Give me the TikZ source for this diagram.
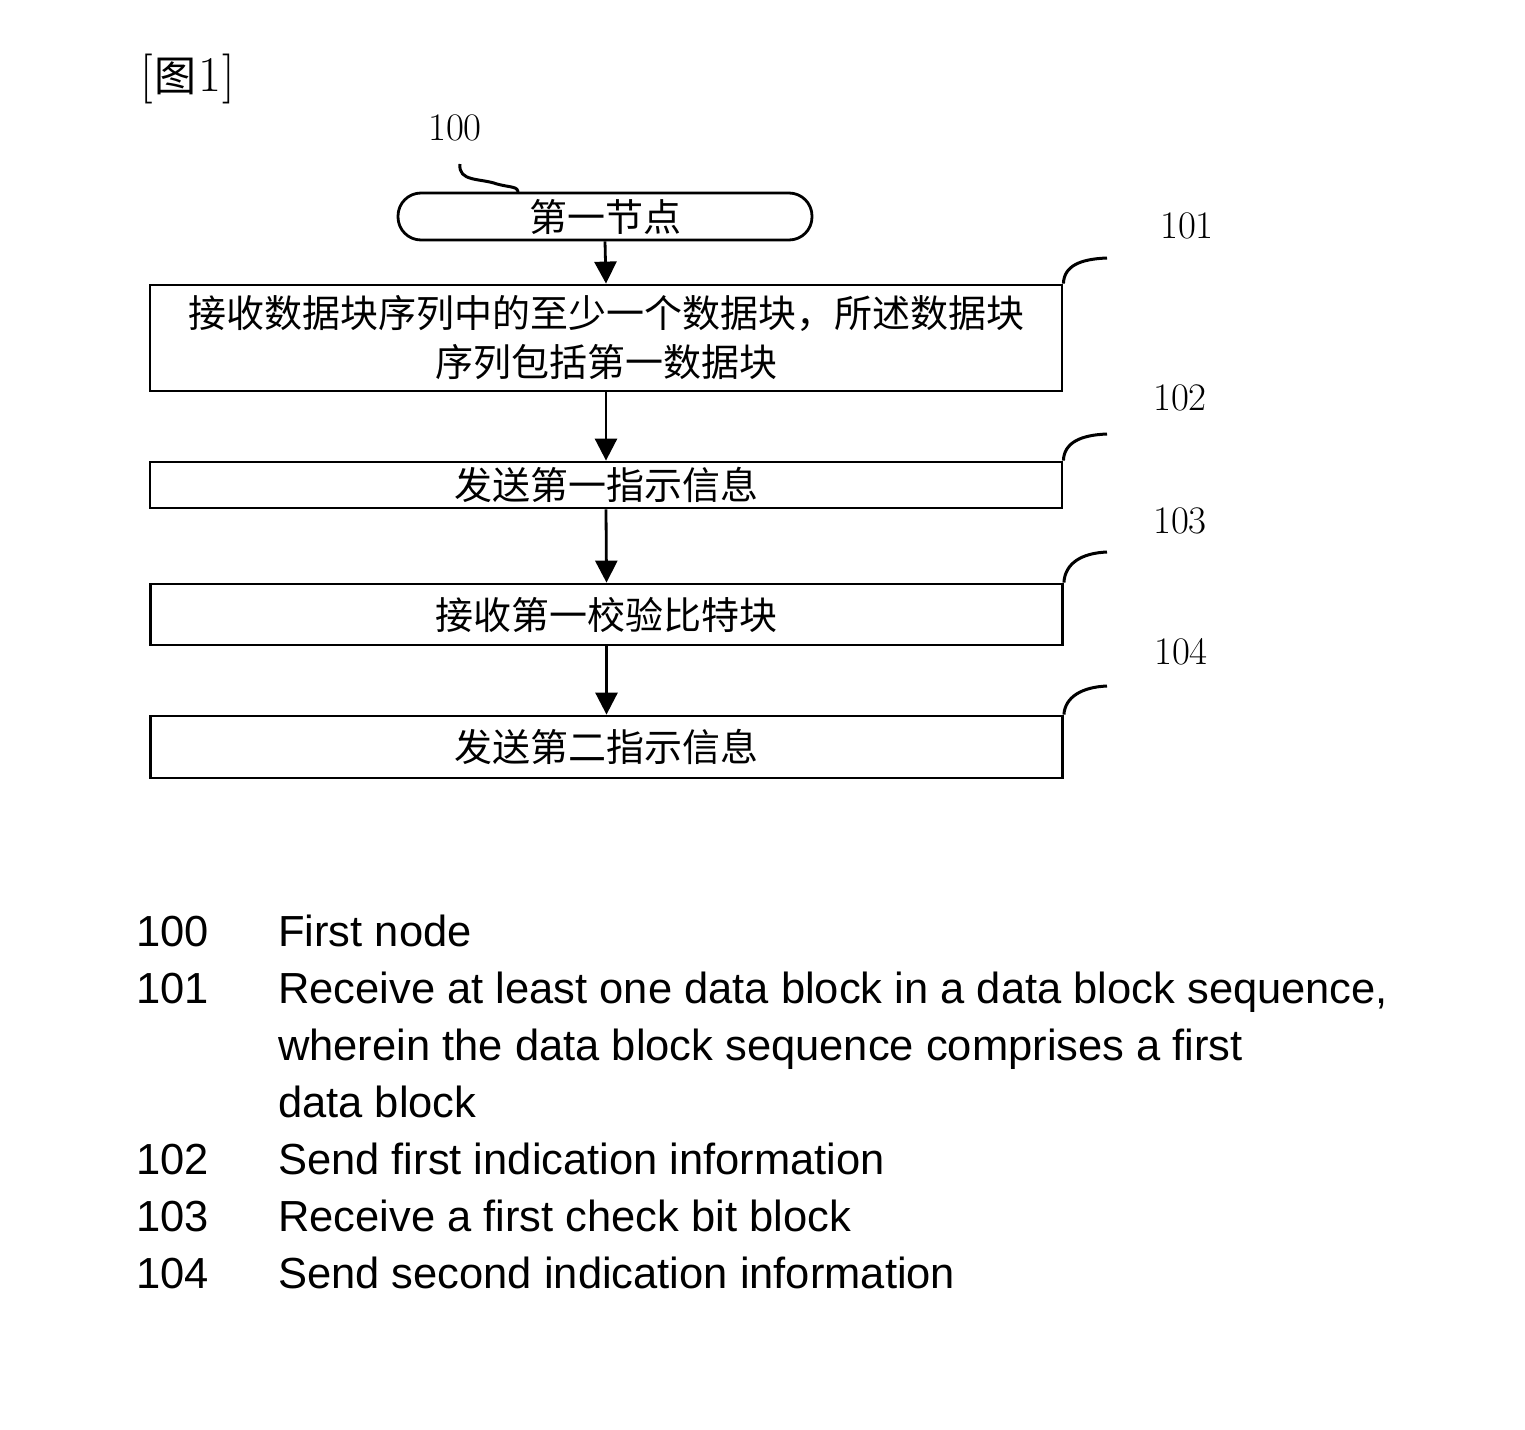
\documentclass[tikz,border=0pt]{standalone}
\usepackage{fontspec}
\newfontfamily\cjk{Noto Sans CJK SC}
\setsansfont{Liberation Sans}
\usetikzlibrary{arrows.meta}
\tikzset{
  flowbox/.style={draw, line width=2.8pt, inner sep=0pt, minimum width=912pt, align=center,
    font=\fontsize{38}{49}\selectfont\cjk},
  termbox/.style={draw, line width=2.8pt, inner sep=0pt, rounded corners=23pt, minimum width=414pt, minimum height=47pt,
    font=\fontsize{38}{49}\selectfont\cjk},
  flowarrow/.style={line width=2.8pt, -{Triangle[width=22pt,length=22pt]}},
  leader/.style={line width=3pt},
  reflabel/.style={inner sep=0pt, font=\fontsize{39}{42}\selectfont},
  legnum/.style={anchor=base west, inner sep=0pt, font=\fontsize{43.5}{50}\selectfont\sffamily},
  legtext/.style={anchor=base west, inner sep=0pt, font=\fontsize{43.5}{50}\selectfont\sffamily}
}
\begin{document}
\begin{tikzpicture}[x=1pt, y=-1pt]
\useasboundingbox (0,0) rectangle (1525,1429);
\fill[white] (0,0) rectangle (1525,1429);

\node[anchor=west, inner sep=0pt, font=\fontsize{50}{54}\selectfont] (fig) at (140,79) {[\hspace{2pt}{\cjk\fontsize{42}{46}\selectfont 图}\hspace{2pt}1\hspace{1pt}]};

% flow
\node[termbox] (n100) at (605,216.5) {第一节点};
\node[flowbox, minimum height=106pt] (n101) at (606,338) {接收数据块序列中的至少一个数据块，所述数据块\\序列包括第一数据块};
\node[flowbox, minimum height=46pt] (n102) at (606,485) {发送第一指示信息};
\node[flowbox, minimum height=61pt] (n103) at (606.5,614.5) {接收第一校验比特块};
\node[flowbox, minimum height=62pt] (n104) at (606.5,747) {发送第二指示信息};

\draw[flowarrow] (n100.south) -- (n101.north);
\draw[flowarrow] (n101.south) -- (n102.north);
\draw[flowarrow] (n102.south) -- (n103.north);
\draw[flowarrow] (n103.south) -- (n104.north);

% reference labels
\node[reflabel] (r100) at (455,128) {100};
\node[reflabel] (r101) at (1187,226) {101};
\node[reflabel] (r102) at (1180,398) {102};
\node[reflabel] (r103) at (1180,521) {103};
\node[reflabel] (r104) at (1181,652) {104};

\coordinate (s100) at (460,164);
\coordinate (m100) at (497,184);
\coordinate (e100) at (518,193);
\draw[leader] (s100) .. controls (458,182) and (480,178) .. (m100) .. controls (512,188) and (518,186) .. (e100);

\coordinate (l101) at (1107,258);
\coordinate (l102) at (1107,434);
\coordinate (l103) at (1107,552);
\coordinate (l104) at (1107,686);
\draw[leader] (n101.north east) .. controls (1064,266) and (1080,259) .. (l101);
\draw[leader] (n102.north east) .. controls (1064,443) and (1080,435) .. (l102);
\draw[leader] (n103.north east) .. controls (1065,563) and (1082,553) .. (l103);
\draw[leader] (n104.north east) .. controls (1065,697) and (1082,687) .. (l104);

% legend
\node[legnum] (k100) at (136,946) {100};
\node[legtext] (t100) at (278,946) {First node};
\node[legnum] (k101) at (136,1003) {101};
\node[legtext] (t101a) at (278,1003) {Receive at least one data block in a data block sequence,};
\node[legtext] (t101b) at (278,1060) {wherein the data block sequence comprises a first};
\node[legtext] (t101c) at (278,1117) {data block};
\node[legnum] (k102) at (136,1174) {102};
\node[legtext] (t102) at (278,1174) {Send first indication information};
\node[legnum] (k103) at (136,1231) {103};
\node[legtext] (t103) at (278,1231) {Receive a first check bit block};
\node[legnum] (k104) at (136,1288) {104};
\node[legtext] (t104) at (278,1288) {Send second indication information};
\end{tikzpicture}
\end{document}
